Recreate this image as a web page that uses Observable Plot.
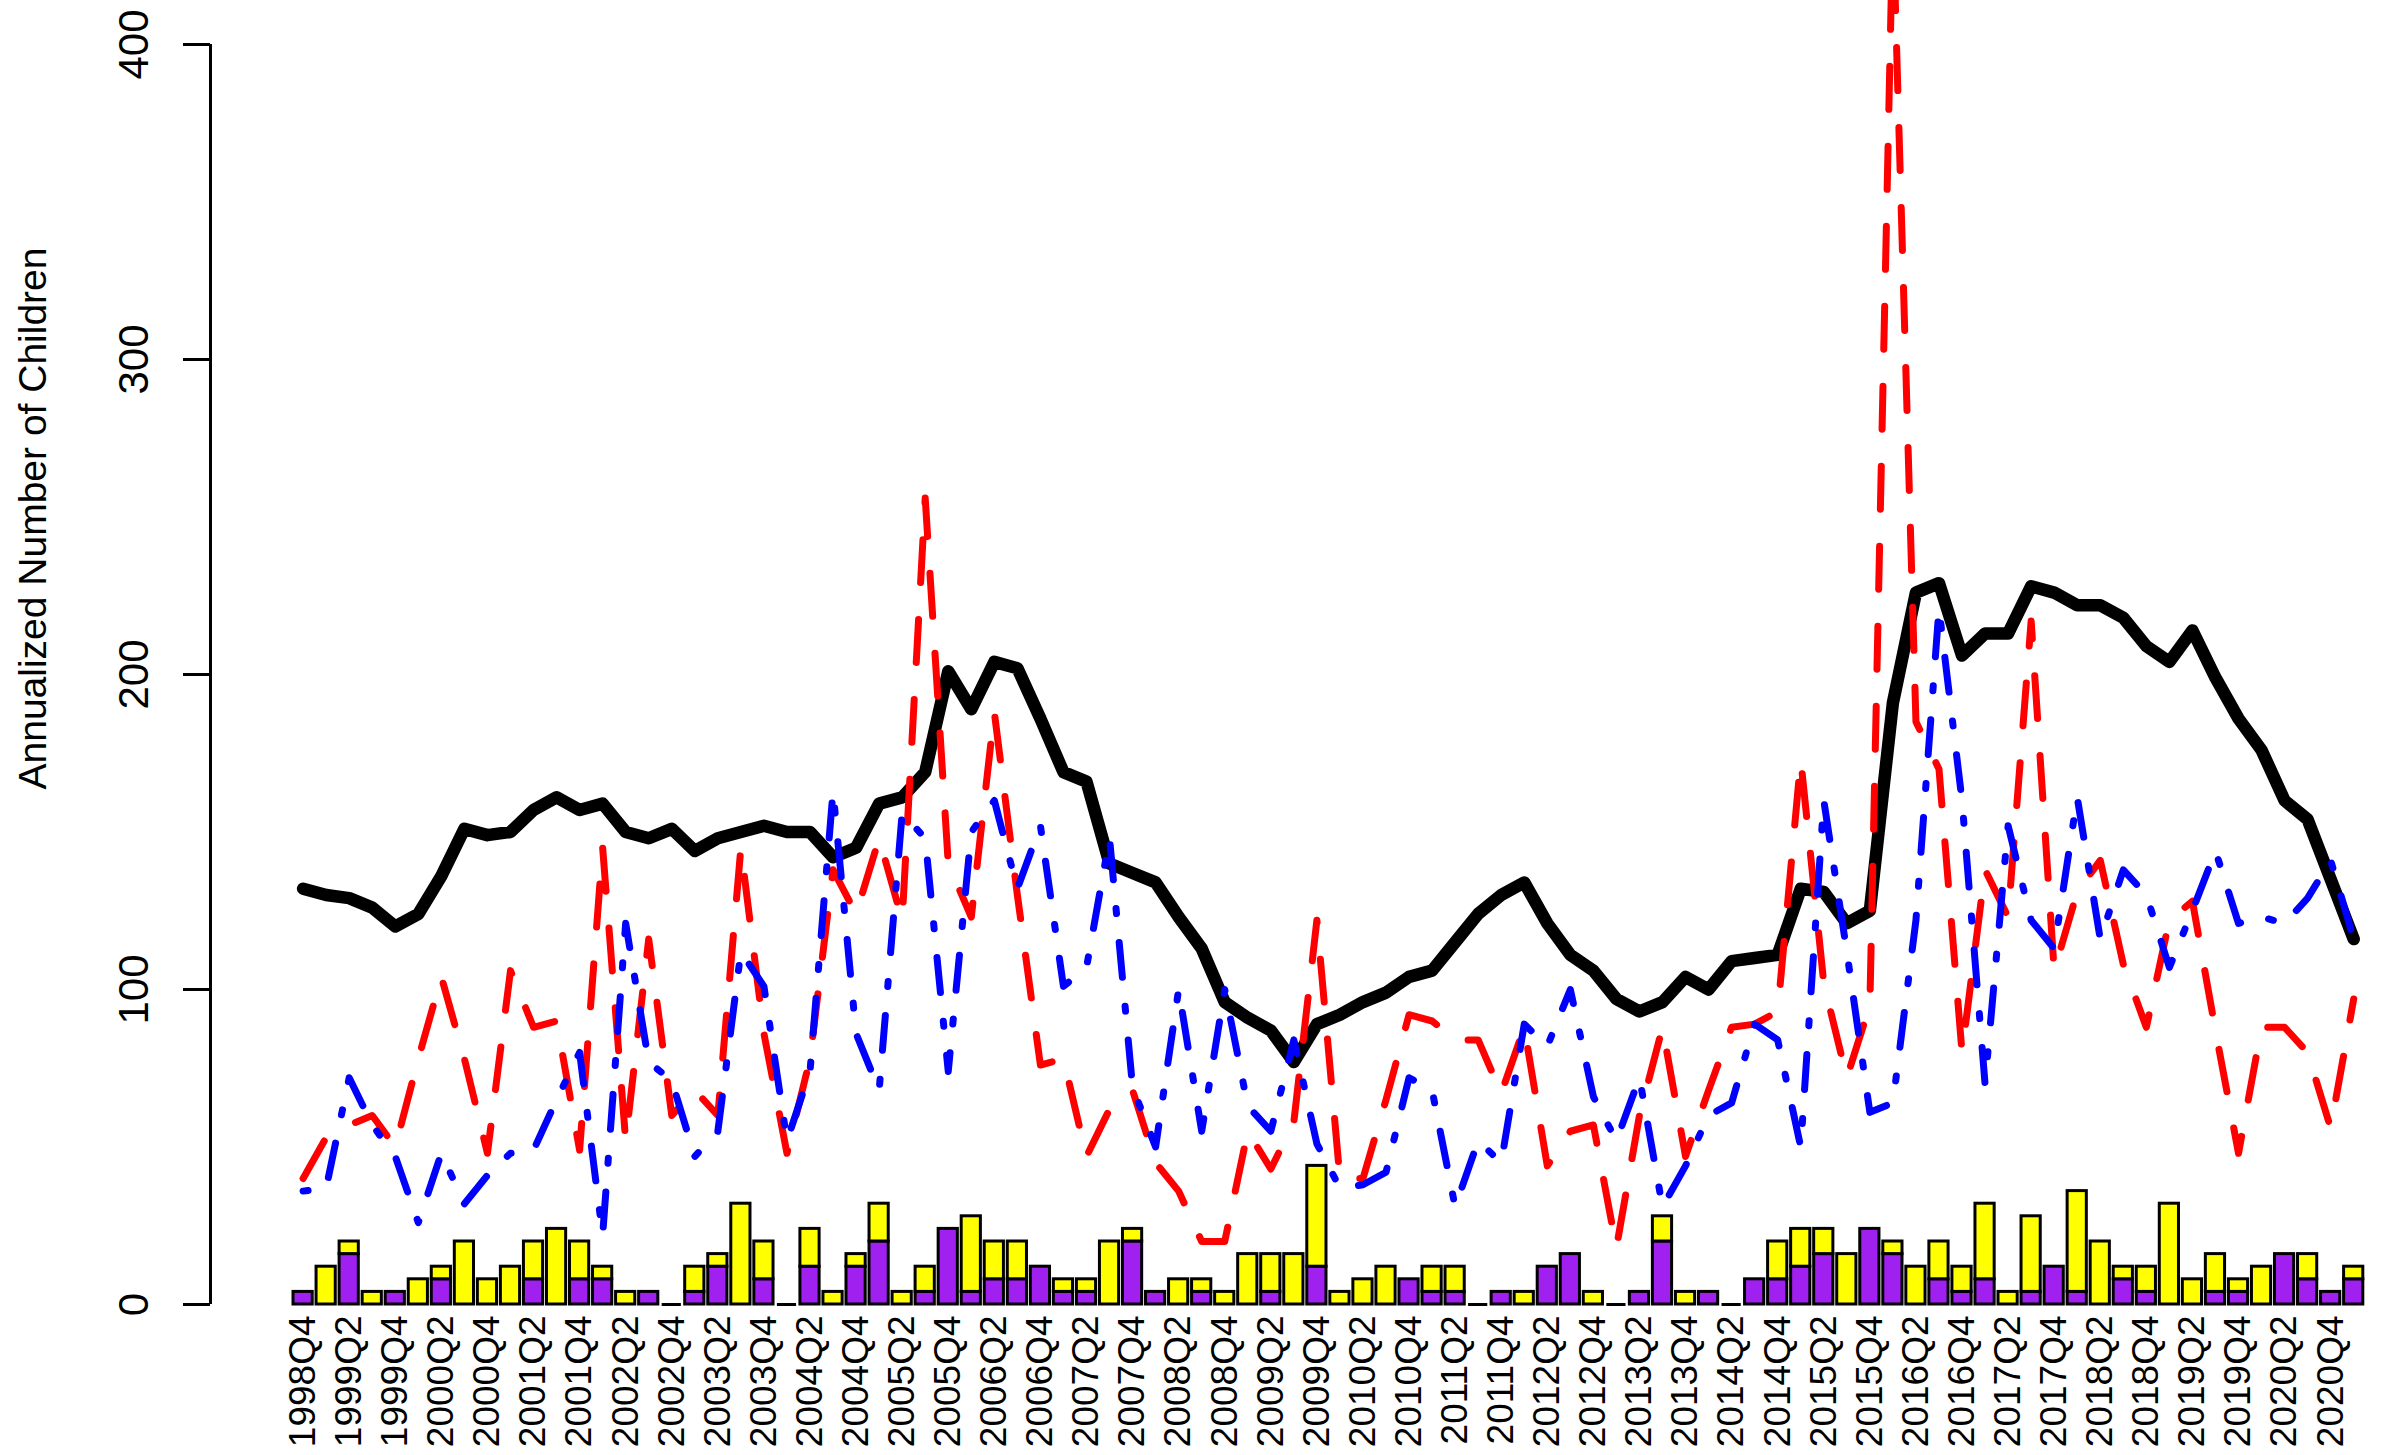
<!DOCTYPE html>
<html>
<head>
<meta charset="utf-8">
<script src="https://cdn.jsdelivr.net/npm/d3@7"></script>
<script src="https://cdn.jsdelivr.net/npm/@observablehq/plot@0.6"></script>
<style>
html, body { margin: 0; padding: 0; background: #ffffff; overflow: hidden; }
#chart svg { display: block; }
</style>
</head>
<body>
<div id="chart"></div>
<script>
// ---- Data ----
const quarters = [
  "1998Q4",
  "1999Q1","1999Q2","1999Q3","1999Q4",
  "2000Q1","2000Q2","2000Q3","2000Q4",
  "2001Q1","2001Q2","2001Q3","2001Q4",
  "2002Q1","2002Q2","2002Q3","2002Q4",
  "2003Q1","2003Q2","2003Q3","2003Q4",
  "2004Q1","2004Q2","2004Q3","2004Q4",
  "2005Q1","2005Q2","2005Q3","2005Q4",
  "2006Q1","2006Q2","2006Q3","2006Q4",
  "2007Q1","2007Q2","2007Q3","2007Q4",
  "2008Q1","2008Q2","2008Q3","2008Q4",
  "2009Q1","2009Q2","2009Q3","2009Q4",
  "2010Q1","2010Q2","2010Q3","2010Q4",
  "2011Q1","2011Q2","2011Q3","2011Q4",
  "2012Q1","2012Q2","2012Q3","2012Q4",
  "2013Q1","2013Q2","2013Q3","2013Q4",
  "2014Q1","2014Q2","2014Q3","2014Q4",
  "2015Q1","2015Q2","2015Q3","2015Q4",
  "2016Q1","2016Q2","2016Q3","2016Q4",
  "2017Q1","2017Q2","2017Q3","2017Q4",
  "2018Q1","2018Q2","2018Q3","2018Q4",
  "2019Q1","2019Q2","2019Q3","2019Q4",
  "2020Q1","2020Q2","2020Q3","2020Q4",
  "2021Q1"
];

// stacked bars (annualized), purple at bottom, yellow on top
const purpleBars = [
  4,0,16,0,4,0,8,0,0,0,
  8,0,8,8,0,4,0,4,12,0,
  8,0,12,0,12,20,0,4,24,4,
  8,8,12,4,4,0,20,4,0,4,
  0,0,4,0,12,0,0,0,8,4,
  4,0,4,0,12,16,0,0,4,20,
  0,4,0,8,8,12,16,0,24,16,
  0,8,4,8,0,4,12,4,0,8,
  4,0,0,4,4,0,16,8,4,8
];
const yellowBars = [
  0,12,4,4,0,8,4,20,8,12,
  12,24,12,4,4,0,0,8,4,32,
  12,0,12,4,4,12,4,8,0,24,
  12,12,0,4,4,20,4,0,8,4,
  4,16,12,16,32,4,8,12,0,8,
  8,0,0,4,0,0,4,0,0,8,
  4,0,0,0,12,12,8,16,0,4,
  12,12,8,24,4,24,0,32,20,4,
  8,32,8,12,4,12,0,8,0,4
];

// solid black line
const blackSeries = [
  132,130,129,126,120,124,136,151,149,150,
  157,161,157,159,150,148,151,144,148,150,
  152,150,150,142,145,159,161,169,201,189,
  204,202,186,169,166,140,137,134,123,113,
  96,91,87,77,89,92,96,99,104,106,
  115,124,130,134,121,111,106,97,93,96,
  104,100,109,110,111,132,131,121,125,191,
  226,229,206,213,213,228,226,222,222,218,
  209,204,214,199,186,176,160,154,135,116
];
// red dashed line
const redSeries = [
  40,53,57,60,50,78,104,78,48,106,
  88,90,49,145,52,116,60,68,60,145,
  86,48,78,138,124,148,122,256,140,123,
  188,130,76,78,47,62,68,45,36,20,
  20,55,43,58,122,40,40,65,92,90,
  84,84,67,88,44,55,57,18,60,88,
  47,68,88,89,93,173,102,72,95,440,
  185,170,80,138,123,217,106,131,141,108,
  88,122,128,87,48,88,88,80,56,97
];
// blue dot-dash line
const blueSeries = [
  36,37,72,57,47,26,48,32,41,48,
  49,65,80,22,121,77,71,47,55,112,
  101,52,74,163,86,68,156,148,74,150,
  160,132,152,101,107,148,69,50,100,55,
  100,63,55,84,51,37,38,42,72,68,
  31,52,45,89,82,100,66,52,72,31,
  44,60,64,89,84,50,160,112,61,64,
  122,221,160,70,152,122,113,161,116,138,
  130,107,125,144,121,123,121,129,141,116
];

const yTicks = [0, 100, 200, 300, 400];
const yTitle = "Annualized Number of Children";

// ---- Table built from the arrays ----
const rows = quarters.map((q, i) => ({
  i, q,
  black: blackSeries[i], red: redSeries[i], blue: blueSeries[i],
  purple: purpleBars[i], yellow: yellowBars[i]
}));

const half = 0.5 / 1.2;           // bar width 1, spacing 1.2 (R barplot)
const xDomain = [-4.02, 90.38];   // plot-region extent in bar-index units
const font = "'Liberation Sans', Arial, Helvetica, sans-serif";
const lineStyle = { strokeLinejoin: "round", strokeLinecap: "round" };

const chart = Plot.plot({
  width: 2385,
  height: 1455,
  marginLeft: 210,
  marginRight: 0,
  marginTop: 44,
  marginBottom: 151,
  style: { fontFamily: font, background: "white", color: "black" },
  x: { domain: xDomain, axis: null },
  y: { domain: [0, 400], ticks: 5, tickSize: 27, tickFormat: () => "", label: null },
  marks: [
    Plot.rectY(rows.filter(d => d.purple > 0), {
      x1: d => d.i - half, x2: d => d.i + half, y1: 0, y2: "purple",
      fill: "#A020F0", stroke: "black", strokeWidth: 3
    }),
    Plot.rectY(rows.filter(d => d.yellow > 0), {
      x1: d => d.i - half, x2: d => d.i + half, y1: "purple", y2: d => d.purple + d.yellow,
      fill: "#FFFF00", stroke: "black", strokeWidth: 3
    }),
    Plot.ruleY(rows.filter(d => d.purple + d.yellow === 0), {
      x1: d => d.i - half, x2: d => d.i + half, y: 0, stroke: "black", strokeWidth: 3
    }),
    Plot.line(rows, { x: "i", y: "black", stroke: "black", strokeWidth: 12.5, ...lineStyle }),
    Plot.line(rows, { x: "i", y: "red", stroke: "#FF0000", strokeWidth: 7,
      strokeDasharray: "43,37", ...lineStyle }),
    Plot.line(rows, { x: "i", y: "blue", stroke: "#0000FF", strokeWidth: 7,
      strokeDasharray: "5,29,35,29", ...lineStyle }),
    Plot.ruleX([xDomain[0]], { y1: 0, y2: 400, stroke: "black", strokeWidth: 3 }),
    Plot.text(yTicks, {
      y: d => d, text: d => String(d), frameAnchor: "left", dx: -76,
      rotate: -90, textAnchor: "middle", lineAnchor: "middle", fontSize: 42, fill: "black"
    }),
    Plot.text(rows.filter(d => d.i % 2 === 0), {
      x: "i", y: 0, text: "q", dy: 11, rotate: -90,
      textAnchor: "end", lineAnchor: "middle", fontSize: 37, fill: "black"
    }),
    Plot.text([yTitle], {
      frameAnchor: "left", dx: -177, dy: -156, rotate: -90,
      textAnchor: "middle", lineAnchor: "middle", fontSize: 39, fill: "black"
    })
  ]
});

d3.select(chart).selectAll('[aria-label="y-axis tick"]').attr("stroke-width", 3).attr("stroke", "black");
document.getElementById("chart").appendChild(chart);
</script>
</body>
</html>
